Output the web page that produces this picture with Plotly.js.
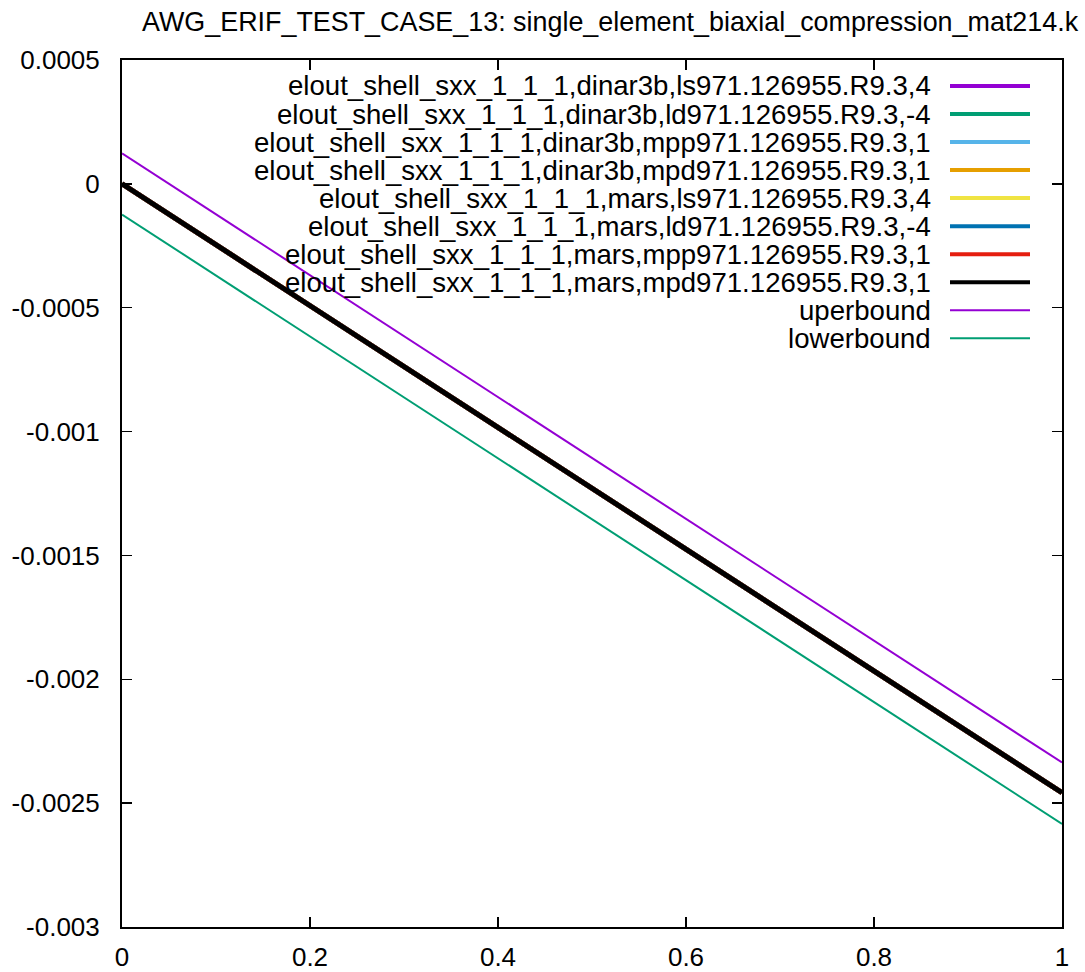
<!DOCTYPE html>
<html>
<head>
<meta charset="utf-8">
<script src="https://cdn.plot.ly/plotly-3.0.1.min.js"></script>
<style>html,body{margin:0;padding:0;background:#fff;}#chart{width:1085px;height:972px;}</style>
</head>
<body>
<div id="chart"></div>
<script>
// ---- data ----
const titleText = "AWG_ERIF_TEST_CASE_13: single_element_biaxial_compression_mat214.k";
const xValues = [0, 1];
const seriesNames = [
  "elout_shell_sxx_1_1_1,dinar3b,ls971.126955.R9.3,4",
  "elout_shell_sxx_1_1_1,dinar3b,ld971.126955.R9.3,-4",
  "elout_shell_sxx_1_1_1,dinar3b,mpp971.126955.R9.3,1",
  "elout_shell_sxx_1_1_1,dinar3b,mpd971.126955.R9.3,1",
  "elout_shell_sxx_1_1_1,mars,ls971.126955.R9.3,4",
  "elout_shell_sxx_1_1_1,mars,ld971.126955.R9.3,-4",
  "elout_shell_sxx_1_1_1,mars,mpp971.126955.R9.3,1",
  "elout_shell_sxx_1_1_1,mars,mpd971.126955.R9.3,1"
];
const seriesColors = ["#9400d3", "#009e73", "#56b4e9", "#e69f00", "#f0e442", "#0072b2", "#e51e10", "#000000"];
const sxxValues = [0, -0.002458];          // all eight runs overlap
const upperName = "uperbound";
const upperValues = [0.000123, -0.002336];
const upperColor = "#9400d3";
const lowerName = "lowerbound";
const lowerValues = [-0.000124, -0.002584];
const lowerColor = "#009e73";
const xTickVals = [0, 0.2, 0.4, 0.6, 0.8, 1];
const xTickText = ["0", "0.2", "0.4", "0.6", "0.8", "1"];
const yTickVals = [0.0005, 0, -0.0005, -0.001, -0.0015, -0.002, -0.0025, -0.003];
const yTickText = ["0.0005", "0", "-0.0005", "-0.001", "-0.0015", "-0.002", "-0.0025", "-0.003"];

// ---- layout constants ----
const W = 1085, H = 972;
const mL = 122, mR = 23, mT = 60, mB = 45;
const plotW = W - mL - mR, plotH = H - mT - mB;
const FONT = "Liberation Sans, Arial, sans-serif";
const FS = 26;

const traces = [];
seriesNames.forEach((n, i) => {
  traces.push({x: xValues, y: sxxValues, name: n, mode: "lines", type: "scatter",
    line: {color: seriesColors[i], width: 5}, showlegend: false, hoverinfo: "skip"});
});
traces.push({x: xValues, y: upperValues, name: upperName, mode: "lines", type: "scatter",
  line: {color: upperColor, width: 2}, showlegend: false, hoverinfo: "skip"});
traces.push({x: xValues, y: lowerValues, name: lowerName, mode: "lines", type: "scatter",
  line: {color: lowerColor, width: 2}, showlegend: false, hoverinfo: "skip"});

// gnuplot-style key: right-aligned text then sample line
const keyEntries = seriesNames.map((n, i) => ({name: n, color: seriesColors[i], width: 4}))
  .concat([{name: upperName, color: upperColor, width: 2}, {name: lowerName, color: lowerColor, width: 2}]);
const annotations = [], shapes = [];
keyEntries.forEach((e, i) => {
  const ypx = 86 + 28.03 * i;
  const yp = (H - mB - ypx) / plotH;
  annotations.push({xref: "paper", yref: "paper", x: (933 - mL) / plotW, y: yp, xanchor: "right", yanchor: "middle",
    text: e.name, showarrow: false, font: {family: FONT, size: 27.6, color: "#000"}});
  shapes.push({type: "line", xref: "paper", yref: "paper", x0: (950 - mL) / plotW, x1: (1030 - mL) / plotW, y0: yp, y1: yp,
    line: {color: e.color, width: e.width}});
});

const axisCommon = {showgrid: false, zeroline: false, showline: true, linecolor: "#000", linewidth: 2,
  mirror: "ticks", ticks: "inside", ticklen: 10, tickwidth: 1.5, tickcolor: "#000",
  tickfont: {family: FONT, size: FS, color: "#000"}, tickmode: "array", fixedrange: true};

const layout = {
  width: W, height: H,
  margin: {l: mL, r: mR, t: mT, b: mB, pad: 0},
  paper_bgcolor: "#fff", plot_bgcolor: "#fff",
  title: {text: titleText, font: {family: FONT, size: 26.9, color: "#000"},
    xref: "container", yref: "container", x: 142 / W, xanchor: "left", y: 1 - 22 / H, yanchor: "middle"},
  xaxis: Object.assign({}, axisCommon, {range: [0, 1], tickvals: xTickVals, ticktext: xTickText, ticklabelstandoff: 6}),
  yaxis: Object.assign({}, axisCommon, {range: [-0.003, 0.0005], tickvals: yTickVals, ticktext: yTickText, ticklabelstandoff: 15}),
  annotations: annotations,
  shapes: shapes,
  showlegend: false
};

Plotly.newPlot("chart", traces, layout, {displayModeBar: false, staticPlot: true});
</script>
</body>
</html>
